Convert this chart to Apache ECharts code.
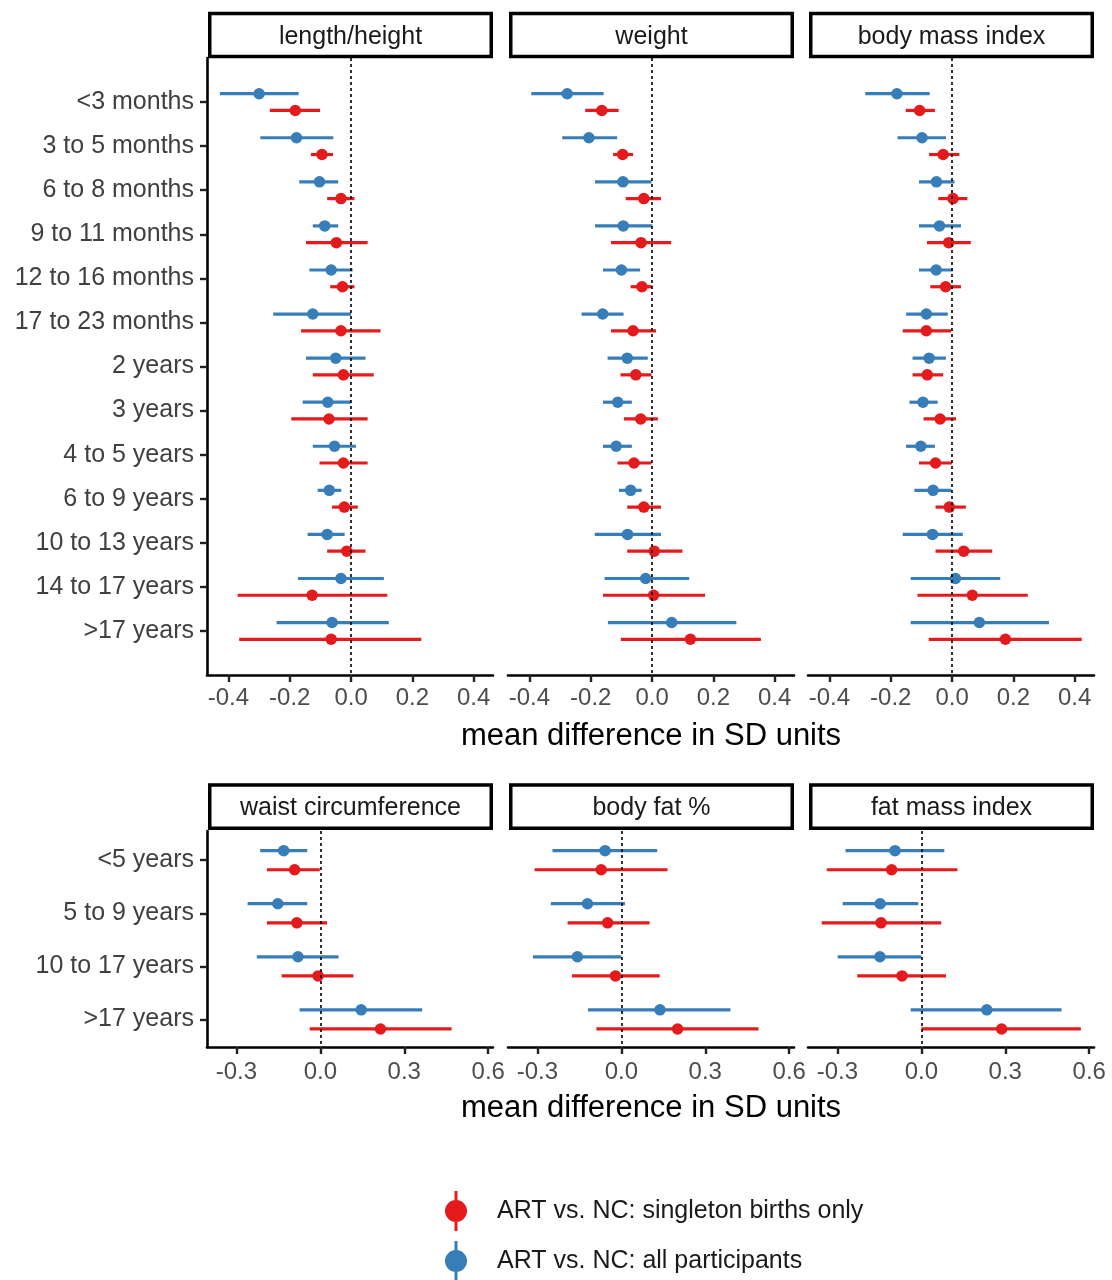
<!DOCTYPE html>
<html>
<head>
<meta charset="utf-8">
<script src="https://cdn.jsdelivr.net/npm/echarts@6/dist/echarts.min.js"></script>
<style>
  html, body { margin: 0; padding: 0; background: #fff; }
  #chart { width: 1112px; height: 1280px; }
</style>
</head>
<body>
<div id="chart"></div>
<script>
// ---------------- DATA ----------------
const topCategories = ['<3 months', '3 to 5 months', '6 to 8 months', '9 to 11 months',
  '12 to 16 months', '17 to 23 months', '2 years', '3 years', '4 to 5 years',
  '6 to 9 years', '10 to 13 years', '14 to 17 years', '>17 years'];
const bottomCategories = ['<5 years', '5 to 9 years', '10 to 17 years', '>17 years'];

const topPanels = ['length/height', 'weight', 'body mass index'];
const bottomPanels = ['waist circumference', 'body fat %', 'fat mass index'];

const singletonName = 'ART vs. NC: singleton births only';
const allName = 'ART vs. NC: all participants';
const axisTitle = 'mean difference in SD units';

const topTicks = [-0.4, -0.2, 0.0, 0.2, 0.4];
const bottomTicks = [-0.3, 0.0, 0.3, 0.6];

// each entry: [mean, lower, upper]
const lengthAll = [
  [-0.300, -0.428, -0.171], [-0.178, -0.296, -0.058], [-0.103, -0.169, -0.042],
  [-0.086, -0.125, -0.042], [-0.065, -0.136, 0.005], [-0.125, -0.254, 0.000],
  [-0.050, -0.147, 0.047], [-0.076, -0.158, 0.000], [-0.054, -0.125, 0.016],
  [-0.071, -0.109, -0.032], [-0.078, -0.142, -0.021], [-0.033, -0.173, 0.107],
  [-0.062, -0.243, 0.123]];
const lengthSingleton = [
  [-0.182, -0.265, -0.101], [-0.095, -0.131, -0.059], [-0.033, -0.078, 0.011],
  [-0.048, -0.147, 0.054], [-0.028, -0.068, 0.011], [-0.033, -0.163, 0.096],
  [-0.025, -0.125, 0.074], [-0.072, -0.195, 0.054], [-0.025, -0.103, 0.054],
  [-0.022, -0.062, 0.022], [-0.014, -0.078, 0.047], [-0.127, -0.370, 0.118],
  [-0.065, -0.365, 0.229]];
const weightAll = [
  [-0.277, -0.394, -0.158], [-0.206, -0.293, -0.114], [-0.095, -0.186, -0.002],
  [-0.094, -0.186, 0.001], [-0.100, -0.160, -0.039], [-0.161, -0.230, -0.093],
  [-0.081, -0.145, -0.014], [-0.112, -0.160, -0.066], [-0.117, -0.160, -0.066],
  [-0.070, -0.108, -0.034], [-0.080, -0.187, 0.029], [-0.021, -0.155, 0.121],
  [0.064, -0.144, 0.275]];
const weightSingleton = [
  [-0.164, -0.218, -0.109], [-0.096, -0.127, -0.062], [-0.027, -0.086, 0.029],
  [-0.036, -0.134, 0.062], [-0.033, -0.070, 0.001], [-0.062, -0.134, 0.013],
  [-0.053, -0.103, -0.002], [-0.037, -0.092, 0.019], [-0.059, -0.113, -0.002],
  [-0.027, -0.081, 0.029], [0.007, -0.081, 0.099], [0.005, -0.160, 0.173],
  [0.125, -0.102, 0.355]];
const bmiAll = [
  [-0.180, -0.283, -0.073], [-0.098, -0.178, -0.020], [-0.051, -0.108, 0.008],
  [-0.041, -0.108, 0.029], [-0.052, -0.108, 0.002], [-0.084, -0.150, -0.014],
  [-0.075, -0.129, -0.020], [-0.095, -0.139, -0.047], [-0.102, -0.150, -0.056],
  [-0.062, -0.123, -0.002], [-0.064, -0.161, 0.035], [0.011, -0.135, 0.157],
  [0.089, -0.135, 0.316]];
const bmiSingleton = [
  [-0.106, -0.151, -0.056], [-0.029, -0.075, 0.024], [0.003, -0.045, 0.050],
  [-0.011, -0.082, 0.061], [-0.021, -0.071, 0.029], [-0.084, -0.161, -0.003],
  [-0.081, -0.129, -0.029], [-0.039, -0.093, 0.013], [-0.054, -0.108, 0.000],
  [-0.009, -0.054, 0.045], [0.038, -0.054, 0.131], [0.066, -0.113, 0.247],
  [0.174, -0.076, 0.423]];
const waistAll = [
  [-0.131, -0.215, -0.047], [-0.152, -0.260, -0.047], [-0.080, -0.227, 0.065], [0.146, -0.074, 0.364]];
const waistSingleton = [
  [-0.092, -0.191, -0.002], [-0.084, -0.191, 0.024], [-0.008, -0.138, 0.118], [0.215, -0.038, 0.469]];
const bodyFatAll = [
  [-0.058, -0.246, 0.128], [-0.121, -0.252, 0.013], [-0.157, -0.316, 0.000], [0.138, -0.119, 0.390]];
const bodyFatSingleton = [
  [-0.072, -0.310, 0.165], [-0.049, -0.192, 0.101], [-0.021, -0.176, 0.137], [0.201, -0.089, 0.490]];
const fmiAll = [
  [-0.094, -0.271, 0.082], [-0.147, -0.281, -0.011], [-0.148, -0.299, 0.000], [0.234, -0.038, 0.501]];
const fmiSingleton = [
  [-0.106, -0.338, 0.129], [-0.144, -0.356, 0.071], [-0.069, -0.229, 0.088], [0.287, 0.000, 0.570]];

// ---------------- LAYOUT / STYLE ----------------
const RED = '#E41A1C', BLUE = '#377EB8';
const FONT = '"Liberation Sans", Arial, Helvetica, sans-serif';
const panelLefts = [207, 508, 808];
const panelWidth = 286;
const rows = [
  { top: 58, height: 617, stripTop: 11.7, cats: topCategories, panels: topPanels,
    data: [[lengthAll, lengthSingleton], [weightAll, weightSingleton], [bmiAll, bmiSingleton]],
    xMin: -0.47, xMax: 0.463, ticks: topTicks, yMin: -1, yMax: 13, dodge: 0.19, labelMargin: 11 },
  { top: 831, height: 216, stripTop: 783.3, cats: bottomCategories, panels: bottomPanels,
    data: [[waistAll, waistSingleton], [bodyFatAll, bodyFatSingleton], [fmiAll, fmiSingleton]],
    xMin: -0.405, xMax: 0.617, ticks: bottomTicks, yMin: -0.55, yMax: 3.52, dodge: 0.18, labelMargin: 13 }
];

const grids = [], xAxes = [], yAxes = [], series = [], graphics = [];

function errorBarRender(color) {
  return function (params, api) {
    const p1 = api.coord([api.value(0), api.value(2)]);
    const p2 = api.coord([api.value(1), api.value(2)]);
    return {
      type: 'line',
      shape: { x1: p1[0], y1: p1[1], x2: p2[0], y2: p2[1] },
      style: { stroke: color, lineWidth: 3.2, lineCap: 'butt' }
    };
  };
}

rows.forEach((row, r) => {
  row.panels.forEach((panelName, c) => {
    const idx = grids.length;
    const left = panelLefts[c];
    grids.push({ left: left, top: row.top, width: panelWidth, height: row.height,
      containLabel: false, outerBoundsMode: 'none' });
    xAxes.push({
      type: 'value', gridIndex: idx, min: row.xMin, max: row.xMax,
      splitLine: { show: false },
      axisLine: { show: true, onZero: false, lineStyle: { color: '#000', width: 2.6 } },
      axisTick: { show: true, length: 7, customValues: row.ticks, lineStyle: { color: '#222', width: 2.4 } },
      axisLabel: { show: true, customValues: row.ticks, margin: row.labelMargin, fontSize: 24, fontFamily: FONT,
        color: '#4D4D4D', formatter: v => v.toFixed(1) },
      name: c === 1 ? axisTitle : '', nameLocation: 'middle', nameGap: 46,
      nameTextStyle: { fontSize: 31, fontFamily: FONT, color: '#000' }
    });
    const catIdx = row.cats.map((_, i) => i);
    yAxes.push({
      type: 'value', gridIndex: idx, min: row.yMin, max: row.yMax, inverse: true,
      splitLine: { show: false },
      axisLine: { show: c === 0, onZero: false, lineStyle: { color: '#000', width: 2.6 } },
      axisTick: { show: c === 0, length: 7, customValues: catIdx, lineStyle: { color: '#222', width: 2.4 } },
      axisLabel: { show: c === 0, customValues: catIdx, margin: 13, fontSize: 25, fontFamily: FONT,
        color: '#404040', formatter: v => row.cats[Math.round(v)] }
    });
    // zero reference line
    series.push({
      type: 'scatter', xAxisIndex: idx, yAxisIndex: idx, data: [], z: 1, silent: true,
      markLine: { symbol: 'none', silent: true, animation: false, label: { show: false },
        lineStyle: { color: '#000', type: [3, 3], width: 1.6 }, data: [{ xAxis: 0 }] }
    });
    const [allArr, singArr] = row.data[c];
    [[allArr, allName, BLUE, -row.dodge], [singArr, singletonName, RED, row.dodge]].forEach(([arr, name, color, off]) => {
      series.push({
        type: 'custom', name: name, xAxisIndex: idx, yAxisIndex: idx, z: 2,
        itemStyle: { color: color },
        renderItem: errorBarRender(color),
        encode: { x: [0, 1], y: 2 },
        data: arr.map((d, i) => [d[1], d[2], i + off])
      });
      series.push({
        type: 'scatter', name: name, xAxisIndex: idx, yAxisIndex: idx, z: 3,
        symbol: 'circle', symbolSize: 11.5, itemStyle: { color: color, opacity: 1 },
        data: arr.map((d, i) => [d[0], i + off])
      });
    });
    // strip box
    const lw = 3.5;
    graphics.push({
      type: 'rect', z: 10,
      shape: { x: left + 1 + lw / 2, y: row.stripTop + lw / 2, width: panelWidth - 1 - lw, height: 46.6 - lw },
      style: { fill: '#fff', stroke: '#000', lineWidth: lw }
    });
    graphics.push({
      type: 'text', z: 11,
      x: left + 1 + (panelWidth - 1) / 2, y: row.stripTop + 25,
      style: { text: panelName, fontSize: 25, fontFamily: FONT, fill: '#1A1A1A',
        align: 'center', verticalAlign: 'middle', textAlign: 'center', textVerticalAlign: 'middle' }
    });
  });
});

const ICON = 'path://M9.5,0H12.5V9.5H9.5Z M0,20A11,11 0 1,1 22,20A11,11 0 1,1 0,20Z M9.5,30.5H12.5V40H9.5Z';

const option = {
  backgroundColor: '#fff',
  animation: false,
  grid: grids,
  xAxis: xAxes,
  yAxis: yAxes,
  series: series,
  graphic: graphics,
  legend: {
    orient: 'vertical', left: 445, top: 1191, height: 120, itemWidth: 22, itemHeight: 40, itemGap: 10,
    selectedMode: false, padding: 0,
    data: [{ name: singletonName, icon: ICON }, { name: allName, icon: ICON }],
    textStyle: { fontSize: 25, fontFamily: FONT, color: '#1A1A1A', padding: [0, 0, 0, 25] }
  }
};

const chart = echarts.init(document.getElementById('chart'), null, { renderer: 'canvas' });
chart.setOption(option);
</script>
</body>
</html>
